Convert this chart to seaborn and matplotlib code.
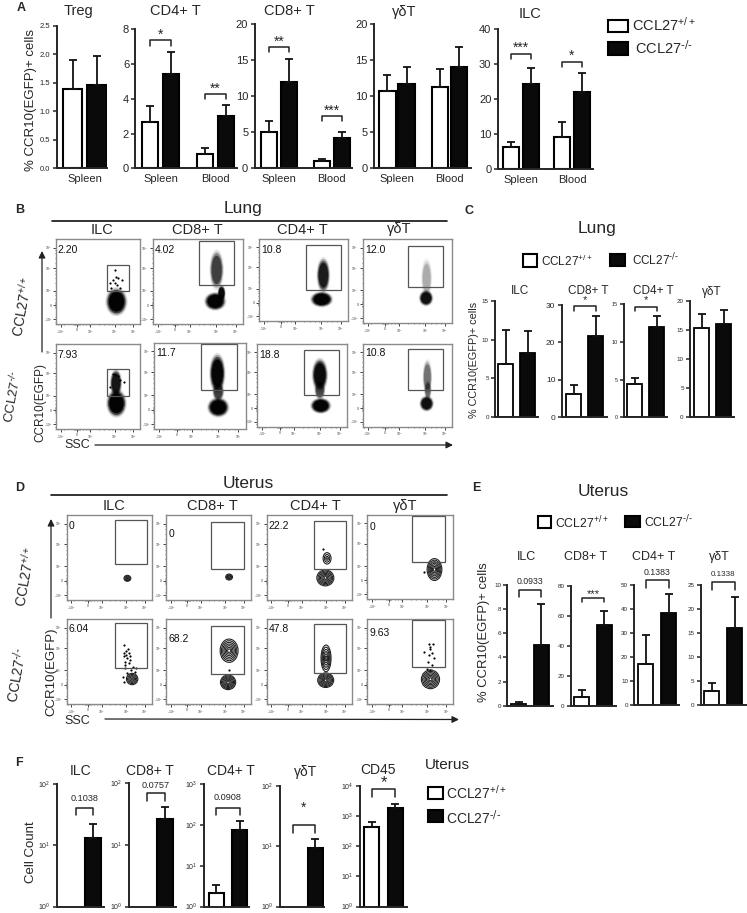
import matplotlib
matplotlib.use("Agg")
import matplotlib.pyplot as plt
from matplotlib.patches import Ellipse, Rectangle
import numpy as np
import pandas as pd
import seaborn as sns

W, H = 747, 913
WT = "CCL27+/+"
KO = "CCL27-/-"
WT_LABEL = "CCL27$^{+/+}$"
KO_LABEL = r"CCL27$^{\text{-/-}}$"
SPL_BLD = ["Spleen", "Blood"]
SPL = ["Spleen"]

# panel A: means and upper error ends, white bars then black bars
a_treg_wt, a_treg_wt_top = [1.4], [1.9]
a_treg_ko, a_treg_ko_top = [1.46], [1.97]
a_cd4_wt, a_cd4_wt_top = [2.65, 0.8], [3.6, 1.15]
a_cd4_ko, a_cd4_ko_top = [5.4, 3.0], [6.7, 3.65]
a_cd8_wt, a_cd8_wt_top = [5.0, 1.0], [6.6, 1.3]
a_cd8_ko, a_cd8_ko_top = [12.0, 4.2], [15.2, 5.0]
a_gd_wt, a_gd_wt_top = [10.8, 11.3], [13.0, 13.8]
a_gd_ko, a_gd_ko_top = [11.7, 14.0], [14.0, 16.8]
a_ilc_wt, a_ilc_wt_top = [6.3, 9.2], [7.7, 13.4]
a_ilc_ko, a_ilc_ko_top = [24.2, 22.0], [29.0, 27.4]

# panel C
c_ilc = [6.8, 8.3]
c_ilc_top = [11.3, 11.1]
c_cd8 = [6.2, 21.8]
c_cd8_top = [8.5, 27.0]
c_cd4 = [4.4, 12.0]
c_cd4_top = [5.2, 13.4]
c_gd = [15.3, 16.1]
c_gd_top = [17.8, 18.4]

# panel E
e_ilc = [0.18, 5.0]
e_ilc_top = [0.35, 8.4]
e_cd8 = [6.2, 54.0]
e_cd8_top = [10.8, 63.0]
e_cd4 = [17.0, 38.2]
e_cd4_top = [29.3, 46.0]
e_gd = [3.0, 16.0]
e_gd_top = [4.6, 22.6]

# panel F, log axes, nan = no bar
f_ilc = [np.nan, 13.3]
f_ilc_top = [np.nan, 22.7]
f_cd8 = [np.nan, 26.5]
f_cd8_top = [np.nan, 42.0]
f_cd4 = [2.1, 74.0]
f_cd4_top = [3.34, 125.0]
f_gd = [np.nan, 9.2]
f_gd_top = [np.nan, 13.4]
f_cd45 = [430.0, 1762.0]
f_cd45_top = [628.0, 2500.0]

# flow panels, all in percent of the plot box
flow_names = ["ILC", "CD8+ T", "CD4+ T", "γδT"]
flow_y_ticks = [6, 22.5, 39.5, 66, 90]
flow_x_ticks = [5.5, 25, 41, 70, 92]
flow_y_labels = ["-10$^3$", "0", "10$^3$", "10$^4$", "10$^5$"]
flow_x_labels = ["-10$^3$", "0", "10$^3$", "10$^4$", "10$^5$"]
flow_y_minor = [3, 9, 19, 20, 21, 24, 25, 26, 30, 34, 37, 48, 54, 59, 63, 72, 78, 84, 87]
flow_x_minor = [2, 9, 22, 23, 24, 26, 27, 28, 32, 36, 39, 51, 57, 63, 67, 76, 82, 88]

lung_values = ["2.20", "4.02", "10.8", "12.0", "7.93", "11.7", "18.8", "10.8"]
lung_value_pos = [(1.6, 87), (1.8, 87.5), (2.6, 87), (2.6, 87),
                  (1.6, 87), (2.5, 87.7), (2.2, 86.7), (2.6, 88.7)]
lung_gates = [(61, 86.5, 39, 70), (51, 90, 46, 98.4), (52.6, 91.8, 38, 93), (51, 90, 43.6, 92),
              (61, 86.5, 38.7, 70.3), (51.5, 90, 45.8, 98.5), (52, 91, 38, 93), (51, 90, 44.8, 94)]
# centre x, centre y, radius x, radius y, darkness
lung_blobs = [
    [(72, 26.5, 10.7, 13.7, 1.0)],
    [(70.6, 64, 6.6, 19.6, 0.55), (76, 36.5, 3.7, 8, 0.9), (69, 27, 10, 9, 1.0)],
    [(72.4, 56, 6.3, 18, 0.75), (70.5, 26.5, 10.5, 8, 1.0)],
    [(71.6, 53.5, 5.2, 20, 0.18), (71, 30, 6.7, 8, 0.85)],
    [(71.4, 54, 6, 13.7, 0.8), (72, 30.5, 10, 13.7, 1.0)],
    [(70, 43.5, 5.5, 9.6, 0.55), (69, 64.6, 7.3, 19, 0.95), (70, 25.4, 10, 9.6, 1.0)],
    [(70, 44.4, 5.2, 10, 0.5), (70, 62.5, 7.5, 17, 0.9), (71, 25.4, 9.7, 8, 1.0)],
    [(72.4, 60, 4.5, 18, 0.35), (73, 44, 3.5, 10, 0.35), (71.6, 28, 6.7, 8, 0.85)],
]
lung_dots_x = [[70, 72, 68, 74, 64, 78, 70, 76, 66, 73], [], [], [],
               [68, 74, 81, 70, 76, 64], [], [], []]
lung_dots_y = [[63.7, 56, 52, 54, 48, 52, 48, 43, 42, 46], [], [], [],
               [65, 62, 56, 64, 58, 50], [], [], []]

uterus_values = ["0", "0", "22.2", "0", "6.04", "68.2", "47.8", "9.63"]
uterus_value_pos = [(2, 87.5), (2.7, 78), (2, 87.5), (2.4, 86),
                    (2, 88.6), (2.7, 77), (2, 88.6), (2.4, 83)]
uterus_gates = [(56.9, 95, 42, 93.7), (53, 92, 36, 91.8), (56, 93, 36, 93.3), (51.8, 91, 43.9, 98.8),
                (57, 95, 42, 95), (53, 92, 35.7, 91.4), (56, 93, 36, 94.5), (51.8, 91, 44, 98.4)]
# centre x, centre y, radius x, radius y, rings
uterus_contours = [
    [(71.4, 25.5, 4, 3.5, 4)],
    [(74.5, 27, 4, 3.5, 4)],
    [(71, 49, 4.7, 6.7, 3), (69, 26, 10, 9.4, 7)],
    [(78.4, 35.3, 8.6, 13, 7)],
    [(77, 29.4, 6.7, 6.7, 5)],
    [(74.5, 62.7, 10.6, 13.7, 7), (73.3, 25.5, 9, 8.6, 7)],
    [(69.8, 53.7, 5.9, 15.7, 6), (69.4, 28, 9.4, 8.6, 7)],
    [(73.7, 29, 10.6, 11, 7)],
]
uterus_dots_x = [[], [], [66.7], [66.4],
                 [67, 70, 73, 67, 71, 75, 69, 73, 78, 69, 76, 80, 66, 67, 71, 82, 67, 72, 70, 74, 68],
                 [74], [], [71.5, 77, 66, 73, 75, 71.5, 78, 71, 75, 73, 69.5, 73.4]]
uterus_dots_y = [[], [], [60], [32],
                 [69, 62, 60, 56, 54, 56, 50, 48, 44, 42, 40, 38, 32, 26, 36, 42, 60, 65, 58, 52, 46],
                 [40], [], [71, 70.6, 61.6, 65, 60, 57.6, 53.7, 50, 46, 40, 41, 67.5]]

sns.set_theme(style="ticks")
plt.rcParams["font.family"] = ["Liberation Sans", "DejaVu Sans"]
plt.rcParams["mathtext.default"] = "regular"
plt.rcParams["axes.linewidth"] = 1.4

fig = plt.figure(figsize=(W / 100, H / 100), dpi=100, facecolor="white")

# page axes in picture pixels, for headers, legends and arrows
page = fig.add_axes([0, 0, 1, 1], zorder=5)
page.set_xlim(0, W)
page.set_ylim(H, 0)
page.axis("off")
page.patch.set_alpha(0)


def px_axes(left, right, bottom, top):
    return fig.add_axes([left / W, 1 - bottom / H, (right - left) / W, (bottom - top) / H])


def label(x, y, text, size, ha="center", va="center", **kw):
    page.text(x, y, text, fontsize=size, ha=ha, va=va, **kw)


def swatch(x0, x1, y0, y1, color):
    page.add_patch(Rectangle((x0, y0), x1 - x0, y1 - y0, facecolor=color,
                             edgecolor="black", linewidth=1.5))


def arrow(x0, y0, x1, y1):
    page.annotate("", xy=(x1, y1), xytext=(x0, y0),
                  arrowprops=dict(arrowstyle="-|>", color="#222222", lw=0.9, mutation_scale=10,
                                  shrinkA=0, shrinkB=0))


def bar_panel(box, groups, wt, wt_top, ko, ko_top, ymax, yticks, layout, tick_size=8,
              group_size=8, log=False, ticklabels=None, brackets=(), lw=1.5):
    left, right, bottom, top = box
    c0, unit, step, bar_w = layout
    ax = px_axes(left, right, bottom, top)
    rows = []
    for i, g in enumerate(groups):
        rows.append((g, WT, wt[i]))
        rows.append((g, KO, ko[i]))
    df = pd.DataFrame(rows, columns=["group", "genotype", "value"]).dropna()
    width = 2 * step / unit
    sns.barplot(data=df, x="group", y="value", hue="genotype", order=groups, hue_order=[WT, KO],
                palette={WT: "white", KO: "#0a0a0a"}, saturation=1, width=width, gap=1 - bar_w / step,
                dodge=True, edgecolor="black", linewidth=lw, errorbar=None, legend=False, ax=ax)
    offset = width / 4
    for i in range(len(groups)):
        for xpos, val, end in ((i - offset, wt[i], wt_top[i]), (i + offset, ko[i], ko_top[i])):
            if np.isnan(val):
                continue
            ax.errorbar(xpos, val, yerr=[[0], [end - val]], color="#111111", elinewidth=1.3,
                        capsize=3, capthick=1.3, fmt="none")
    if log:
        ax.set_yscale("log")
        ax.set_ylim(1, ymax)
        ax.minorticks_off()
    else:
        ax.set_ylim(0, ymax)
    ax.set_xlim((left - c0) / unit, (right - c0) / unit)
    ax.set_yticks(yticks)
    ax.set_yticklabels(ticklabels if ticklabels else [str(t) for t in yticks], fontsize=tick_size)
    ax.tick_params(axis="y", length=3, width=1.1, pad=1.5)
    if group_size:
        ax.tick_params(axis="x", length=0, labelsize=group_size, pad=4)
    else:
        ax.tick_params(axis="x", length=0, labelbottom=False)
    ax.set_xlabel("")
    ax.set_ylabel("")
    ax.patch.set_alpha(0)
    sns.despine(ax=ax)
    for i0, i1, foot, peak, mark, mark_y, mark_size in brackets:
        x0 = i0 // 2 + (i0 % 2 - 0.5) * width / 2
        x1 = i1 // 2 + (i1 % 2 - 0.5) * width / 2
        ax.plot([x0, x0, x1, x1], [foot, peak, peak, foot], color="#222222", lw=1.1, clip_on=False)
        ax.text((x0 + x1) / 2, mark_y, mark, ha="center", va="center", fontsize=mark_size, clip_on=False)
    return ax


def flow_box(box):
    left, right, bottom, top = box
    ax = px_axes(left, right, bottom, top)
    ax.set_xlim(0, 100)
    ax.set_ylim(0, 100)
    for s in ax.spines.values():
        s.set_color("#8a8a8a")
        s.set_linewidth(1.0)
    ax.set_xticks(flow_x_ticks)
    ax.set_xticklabels(flow_x_labels, fontsize=2.5, color="#444444")
    ax.set_yticks(flow_y_ticks)
    ax.set_yticklabels(flow_y_labels, fontsize=2.5, color="#444444")
    ax.set_xticks(flow_x_minor, minor=True)
    ax.set_yticks(flow_y_minor, minor=True)
    ax.tick_params(which="major", length=2, width=0.6, pad=1, color="#222222")
    ax.tick_params(which="minor", length=1, width=0.4, color="#222222")
    return ax


def flow_common(ax, gate, value, value_pos, xs, ys):
    if xs:
        sns.scatterplot(x=xs, y=ys, color="black", s=2.5, linewidth=0, ax=ax, zorder=4)
    ax.add_patch(Rectangle((gate[0], gate[2]), gate[1] - gate[0], gate[3] - gate[2], fill=False,
                           edgecolor="#555555", linewidth=0.9, zorder=5))
    ax.text(value_pos[0], value_pos[1], value, fontsize=7.5, ha="left", va="center", color="#111111", zorder=6)


def draw_blob(ax, blob):
    cx, cy, rx, ry, dark = blob
    for scale, a in ((1.25, 0.12), (1.12, 0.3), (1.0, 0.6), (0.85, 0.95)):
        ax.add_patch(Ellipse((cx, cy), 2 * rx * scale, 2 * ry * scale, facecolor="black",
                             edgecolor="none", alpha=a * dark))


def draw_contour(ax, contour):
    cx, cy, rx, ry, rings = contour
    for k in range(rings):
        scale = 1 - k / rings
        ax.add_patch(Ellipse((cx, cy), 2 * rx * scale, 2 * ry * scale, fill=False,
                             edgecolor="#222222", linewidth=0.8))
    ax.add_patch(Ellipse((cx, cy), 2 * rx * 0.14, 2 * ry * 0.14, facecolor="white", edgecolor="#222222",
                         linewidth=0.5))


# ---- panel A
label(21, 8, "A", 9, fontweight="bold")
for x, y, t in ((79, 10.7, "Treg"), (175, 11, "CD4+ T"), (289, 11, "CD8+ T"), (404, 12, "γδT"), (530, 14, "ILC")):
    label(x, y, t, 10.5)
label(31, 100, "% CCR10(EGFP)+ cells", 9.5, rotation=90)
swatch(608, 628, 20.5, 32, "white")
swatch(608, 628, 42.5, 55, "#0a0a0a")
label(632, 25, WT_LABEL, 10.5, ha="left")
label(635, 48, KO_LABEL, 10.5, ha="left")

bar_panel((56.5, 107, 168.3, 26), SPL, a_treg_wt, a_treg_wt_top, a_treg_ko, a_treg_ko_top, 2.5,
          [0, 0.5, 1, 1.5, 2, 2.5], (84.75, 60, 24.5, 19.5), tick_size=5.5,
          ticklabels=["0.0", "0.5", "1.0", "1.5", "2.0", "2.5"])
bar_panel((135.4, 237, 168.3, 29.3), SPL_BLD, a_cd4_wt, a_cd4_wt_top, a_cd4_ko, a_cd4_ko_top, 8,
          [0, 2, 4, 6, 8], (160.7, 55, 20.8, 16.3),
          brackets=[(0, 1, 7.06, 7.39, "*", 7.7, 10), (2, 3, 3.99, 4.26, "**", 4.6, 10)])
bar_panel((254.5, 352, 168.3, 24.3), SPL_BLD, a_cd8_wt, a_cd8_wt_top, a_cd8_ko, a_cd8_ko_top, 20,
          [0, 5, 10, 15, 20], (279, 52.5, 20, 16),
          brackets=[(0, 1, 16.2, 16.9, "**", 17.6, 10), (2, 3, 6.62, 7.27, "***", 8.0, 10)])
bar_panel((374, 471, 168.3, 24.3), SPL_BLD, a_gd_wt, a_gd_wt_top, a_gd_ko, a_gd_ko_top, 20,
          [0, 5, 10, 15, 20], (397, 52.5, 19.3, 16.4))
bar_panel((497.6, 593, 169, 29.3), SPL_BLD, a_ilc_wt, a_ilc_wt_top, a_ilc_ko, a_ilc_ko_top, 40,
          [0, 10, 20, 30, 40], (521, 51, 19.2, 16),
          brackets=[(0, 1, 31.4, 32.8, "***", 34.8, 10), (2, 3, 29.1, 30.5, "*", 32.4, 10)])

# ---- panel B
label(20, 210, "B", 9, fontweight="bold")
label(243, 209, "Lung", 12.5)
page.plot([52, 447], [221, 221], color="#111111", lw=1.2)
for x, y, t in ((102, 230, flow_names[0]), (197, 230, flow_names[1]), (302, 230, flow_names[2]), (399, 229, flow_names[3])):
    label(x, y, t, 10.5)
lung_boxes = [(56, 140, 324.3, 239), (152.7, 243.3, 324.3, 239.3), (258.7, 348, 321, 239.3), (362.7, 452, 323.3, 239.3),
              (56, 140, 429.3, 344), (154.3, 245.7, 429.3, 342.7), (257.3, 346.7, 426.7, 344), (362.7, 452, 426.7, 344)]
for i, box in enumerate(lung_boxes):
    ax = flow_box(box)
    for blob in lung_blobs[i]:
        draw_blob(ax, blob)
    flow_common(ax, lung_gates[i], lung_values[i], lung_value_pos[i], lung_dots_x[i], lung_dots_y[i])
label(22, 307, WT_LABEL, 10, rotation=80)
label(13, 397, KO_LABEL, 9.5, rotation=80)
label(40.5, 402, "CCR10(EGFP)", 8.5, rotation=90)
label(77, 445, "SSC", 9)
arrow(42, 352, 42, 251)
arrow(95, 445, 453, 445)

# ---- panel C
label(469, 211, "C", 9, fontweight="bold")
label(597, 229, "Lung", 12.5)
swatch(523, 536.5, 254.5, 267.5, "white")
swatch(610, 624.5, 254.5, 266.5, "#0a0a0a")
label(541, 261.5, WT_LABEL, 8.5, ha="left", color="#222222")
label(631.5, 260, KO_LABEL, 8.5, ha="left", color="#222222")
label(474, 360, "% CCR10(EGFP)+ cells", 7.8, rotation=90)
for x, t in ((520, "ILC"), (588, "CD8+ T"), (653, "CD4+ T"), (712, "γδT")):
    label(x, 291.5, t, 8.5)
bar_panel((495, 538, 416.7, 301), ["a"], [c_ilc[0]], [c_ilc_top[0]], [c_ilc[1]], [c_ilc_top[1]], 15,
          [0, 5, 10, 15], (516.8, 60, 22, 15), tick_size=4.5, group_size=None, lw=1.3)
bar_panel((561.7, 607, 417.3, 305), ["a"], [c_cd8[0]], [c_cd8_top[0]], [c_cd8[1]], [c_cd8_top[1]], 30,
          [0, 10, 20, 30], (584.7, 60, 22, 15), tick_size=6, group_size=None, lw=1.3,
          brackets=[(0, 1, 28.5, 29.6, "*", 31.2, 8)])
bar_panel((624, 667, 417.3, 304.3), ["a"], [c_cd4[0]], [c_cd4_top[0]], [c_cd4[1]], [c_cd4_top[1]], 15,
          [0, 5, 10, 15], (645.6, 60, 22, 15), tick_size=4, group_size=None, lw=1.3,
          brackets=[(0, 1, 14.16, 14.7, "*", 15.5, 8)])
bar_panel((690, 734, 416.7, 301), ["a"], [c_gd[0]], [c_gd_top[0]], [c_gd[1]], [c_gd_top[1]], 20,
          [0, 5, 10, 15, 20], (712.6, 60, 22, 15), tick_size=4.5, group_size=None, lw=1.3)

# ---- panel D
label(20, 488, "D", 9, fontweight="bold")
label(248, 483, "Uterus", 12.5)
page.plot([51, 447], [495, 495], color="#111111", lw=1.2)
for x, t in ((114, flow_names[0]), (212, flow_names[1]), (315, flow_names[2]), (405, flow_names[3])):
    label(x, 506, t, 10.5)
uterus_boxes = [(66.7, 151.7, 600, 515), (166, 250.7, 600, 515), (266.7, 351.7, 600, 515), (367.3, 453, 599.3, 515),
                (66.7, 151.7, 704, 619), (166, 250.7, 704, 619), (266.7, 351.7, 704, 619), (367.3, 453, 704, 619)]
for i, box in enumerate(uterus_boxes):
    ax = flow_box(box)
    for contour in uterus_contours[i]:
        draw_contour(ax, contour)
    flow_common(ax, uterus_gates[i], uterus_values[i], uterus_value_pos[i], uterus_dots_x[i], uterus_dots_y[i])
label(25, 577, WT_LABEL, 10, rotation=80)
label(17, 675, KO_LABEL, 10, rotation=80)
label(51, 672, "CCR10(EGFP)", 9.5, rotation=90)
label(77, 721, "SSC", 9)
arrow(51, 618, 51, 519)
arrow(105, 719, 459, 719.5)

# ---- panel E
label(476, 488, "E", 9, fontweight="bold")
label(603, 492, "Uterus", 12.5)
swatch(537.5, 550.5, 516.5, 528.5, "white")
swatch(624.5, 639.5, 516.5, 527, "#0a0a0a")
label(555, 523, WT_LABEL, 8.8, ha="left", color="#222222")
label(644, 522.5, KO_LABEL, 8.8, ha="left", color="#222222")
label(484, 632, "% CCR10(EGFP)+ cells", 9.4, rotation=90)
for x, t in ((527, "ILC"), (586, "CD8+ T"), (654, "CD4+ T"), (719, "γδT")):
    label(x, 557, t, 9)
bar_panel((507.3, 553, 706, 584.7), ["a"], [e_ilc[0]], [e_ilc_top[0]], [e_ilc[1]], [e_ilc_top[1]], 10,
          [0, 2, 4, 6, 8, 10], (530, 60, 22.7, 15), tick_size=4.5, group_size=None, lw=1.3,
          brackets=[(0, 1, 8.96, 9.56, "0.0933", 10.3, 6.3)])
bar_panel((570.7, 616, 706, 585.7), ["a"], [e_cd8[0]], [e_cd8_top[0]], [e_cd8[1]], [e_cd8_top[1]], 80,
          [0, 20, 40, 60, 80], (593, 60, 22.8, 15), tick_size=4.5, group_size=None, lw=1.3,
          brackets=[(0, 1, 68.9, 71.6, "***", 74.5, 8)])
bar_panel((634.3, 679.3, 705.3, 584.7), ["a"], [e_cd4[0]], [e_cd4_top[0]], [e_cd4[1]], [e_cd4_top[1]], 50,
          [0, 10, 20, 30, 40, 50], (657, 60, 23, 15), tick_size=4.5, group_size=None, lw=1.3,
          brackets=[(0, 1, 48.8, 51.9, "0.1383", 55, 6.3)])
bar_panel((700.7, 746, 705, 585.3), ["a"], [e_gd[0]], [e_gd_top[0]], [e_gd[1]], [e_gd_top[1]], 25,
          [0, 5, 10, 15, 20, 25], (723.3, 60, 23, 15), tick_size=4.5, group_size=None, lw=1.3,
          brackets=[(0, 1, 24, 25.6, "0.1338", 27.3, 5.8)])

# ---- panel F
label(19, 763, "F", 9, fontweight="bold")
for x, y, t in ((81, 771, "ILC"), (150, 771, "CD8+ T"), (231, 771, "CD4+ T"), (306, 772, "γδT"), (378, 770, "CD45")):
    label(x, y, t, 10)
label(30.5, 852, "Cell Count", 9.5, rotation=90)
label(425, 765, "Uterus", 11, ha="left")
swatch(428, 443, 787.5, 799.5, "white")
swatch(428, 443, 810.5, 822.5, "#0a0a0a")
label(446, 793, WT_LABEL, 10, ha="left")
label(446, 818, KO_LABEL, 10, ha="left")
dec2 = ["10$^0$", "10$^1$", "10$^2$"]
dec3 = dec2 + ["10$^3$"]
dec4 = dec3 + ["10$^4$"]
bar_panel((56.6, 104, 906.5, 784.3), ["a"], [f_ilc[0]], [f_ilc_top[0]], [f_ilc[1]], [f_ilc_top[1]], 100,
          [1, 10, 100], (84.3, 60, 17.5, 16), tick_size=5, group_size=None, log=True, ticklabels=dec2,
          brackets=[(0, 1, 31.8, 40.8, "0.1038", 57.8, 6.6)])
bar_panel((129, 175.6, 906.5, 783.3), ["a"], [f_cd8[0]], [f_cd8_top[0]], [f_cd8[1]], [f_cd8_top[1]], 100,
          [1, 10, 100], (156, 60, 18, 16), tick_size=5, group_size=None, log=True, ticklabels=dec2,
          brackets=[(0, 1, 50.7, 69, "0.0757", 90.6, 6.6)])
bar_panel((204, 249, 906.5, 784.3), ["a"], [f_cd4[0]], [f_cd4_top[0]], [f_cd4[1]], [f_cd4_top[1]], 1000,
          [1, 10, 100, 1000], (227.8, 60, 23.5, 15), tick_size=5, group_size=None, log=True, ticklabels=dec3,
          brackets=[(0, 1, 175, 267, "0.0908", 467, 6.6)])
bar_panel((279.6, 324, 906.5, 786), ["a"], [f_gd[0]], [f_gd_top[0]], [f_gd[1]], [f_gd_top[1]], 100,
          [1, 10, 100], (304, 60, 22, 15), tick_size=5, group_size=None, log=True, ticklabels=dec2,
          brackets=[(0, 1, 16.7, 22.3, "*", 43, 10)])
bar_panel((359.5, 407, 906.5, 785.7), ["a"], [f_cd45[0]], [f_cd45_top[0]], [f_cd45[1]], [f_cd45_top[1]], 10000,
          [1, 10, 100, 1000, 10000], (383.6, 60, 23.7, 15), tick_size=5, group_size=None, log=True, ticklabels=dec4,
          brackets=[(0, 1, 4365, 7586, "*", 13000, 12)])

fig.savefig("out.png", dpi=100)
